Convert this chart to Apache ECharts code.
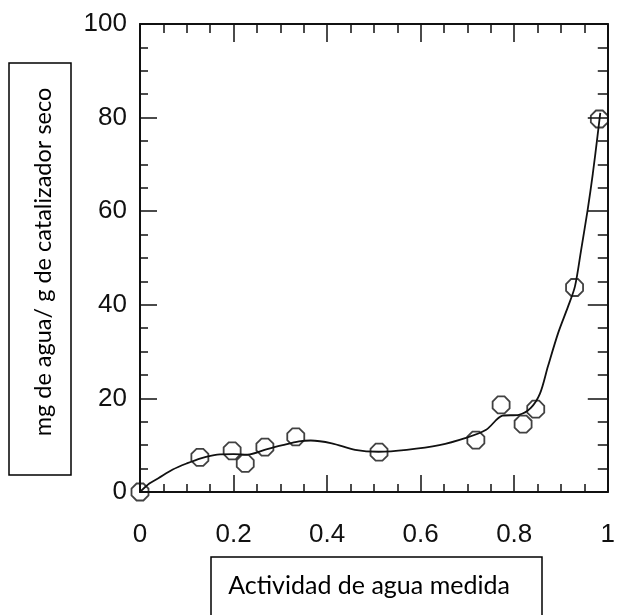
<!DOCTYPE html>
<html>
<head>
<meta charset="utf-8">
<script src="https://cdn.jsdelivr.net/npm/echarts@6/dist/echarts.min.js"></script>
<style>
html, body { margin: 0; padding: 0; background: #fff; }
#chart { width: 618px; height: 615px; }
</style>
</head>
<body>
<div id="chart"></div>
<script>
// puntos medidos (actividad de agua, mg agua / g catalizador)
var pointX = [0, 0.128, 0.197, 0.225, 0.267, 0.333, 0.511, 0.718, 0.772, 0.819, 0.846, 0.929, 0.982];
var pointY = [0, 7.4, 8.8, 6.1, 9.6, 11.8, 8.5, 11.1, 18.6, 14.5, 17.7, 43.7, 79.7];

// curva ajustada
var curveX = [0, 0.02, 0.04, 0.07, 0.1, 0.13, 0.165, 0.2, 0.23, 0.27, 0.305, 0.34, 0.365, 0.41, 0.46, 0.51, 0.57, 0.64, 0.695, 0.74, 0.775, 0.81, 0.835, 0.855, 0.872, 0.894, 0.915, 0.93, 0.943, 0.957, 0.968, 0.978, 0.984];
var curveY = [0, 1.8, 3.0, 4.8, 6.1, 7.2, 8.0, 8.1, 8.0, 9.1, 10.0, 10.8, 11.0, 10.4, 9.0, 8.6, 9.0, 10.0, 11.5, 13.3, 16.3, 16.5, 17.9, 21.0, 26.8, 34.0, 39.6, 44.0, 51.7, 60.3, 68.0, 76.0, 81.0];

var xTicks = [0, 0.2, 0.4, 0.6, 0.8, 1];
var yTicks = [0, 20, 40, 60, 80, 100];

var xTitle = "Actividad de agua medida";
var yTitle = "mg de agua/ g de catalizador seco";

function zip(a, b) {
    var out = [];
    for (var i = 0; i < a.length; i++) out.push([a[i], b[i]]);
    return out;
}

var labelFont = "'Liberation Sans', Arial, sans-serif";
var titleFont = "Lato, 'Open Sans', sans-serif";
var octagon = "path://M3,0 L7,0 L10,3 L10,7 L7,10 L3,10 L0,7 L0,3 Z";

var tickStyle = { color: "#111", width: 1.5 };

function axisBase(extra) {
    var base = {
        type: "value",
        axisLine: { show: true, onZero: false, lineStyle: { color: "#111", width: 2 } },
        splitLine: { show: false },
        minorSplitLine: { show: false }
    };
    for (var k in extra) base[k] = extra[k];
    return base;
}

var chart = echarts.init(document.getElementById("chart"));

var option = {
    animation: false,
    backgroundColor: "#fff",
    grid: { left: 140, right: 8, top: 24, bottom: 123 },
    xAxis: [
        axisBase({
            position: "bottom",
            min: xTicks[0], max: xTicks[xTicks.length - 1], interval: 0.2,
            axisTick: { inside: true, length: 17, lineStyle: tickStyle },
            minorTick: { show: true, splitNumber: 4, length: 8, lineStyle: tickStyle },
            axisLabel: {
                margin: 30, fontSize: 26, color: "#111", fontFamily: labelFont,
                formatter: function (v) { return String(+v.toFixed(1)); }
            }
        }),
        axisBase({
            position: "top",
            min: xTicks[0], max: xTicks[xTicks.length - 1], interval: 0.2,
            axisTick: { inside: true, length: 18, lineStyle: tickStyle },
            minorTick: { show: true, splitNumber: 4, length: 9, lineStyle: tickStyle },
            axisLabel: { show: false }
        })
    ],
    yAxis: [
        axisBase({
            position: "left",
            min: yTicks[0], max: yTicks[yTicks.length - 1], interval: 20,
            axisTick: { inside: true, length: 17, lineStyle: tickStyle },
            minorTick: { show: true, splitNumber: 4, length: 8, lineStyle: tickStyle },
            axisLabel: { margin: 13, fontSize: 26, color: "#111", fontFamily: labelFont }
        }),
        axisBase({
            position: "right",
            min: yTicks[0], max: yTicks[yTicks.length - 1], interval: 20,
            axisTick: { inside: true, length: 20, lineStyle: tickStyle },
            minorTick: { show: true, splitNumber: 4, length: 10, lineStyle: tickStyle },
            axisLabel: { show: false }
        })
    ],
    series: [
        {
            type: "line",
            data: zip(curveX, curveY),
            smooth: 0.3,
            showSymbol: false,
            lineStyle: { color: "#111", width: 1.8 },
            z: 2
        },
        {
            type: "scatter",
            data: zip(pointX, pointY),
            symbol: octagon,
            symbolSize: 17,
            itemStyle: { color: "rgba(0,0,0,0)", borderColor: "#111", borderWidth: 1.8 },
            z: 3
        }
    ],
    graphic: [
        {
            type: "rect",
            shape: { x: 9, y: 63, width: 62, height: 412 },
            style: { fill: "#fff", stroke: "#000", lineWidth: 1.5 }
        },
        {
            type: "text",
            x: 43, y: 262,
            rotation: Math.PI / 2,
            style: {
                text: yTitle, fontSize: 23.5, fontFamily: titleFont, fill: "#000",
                align: "center", verticalAlign: "middle"
            }
        },
        {
            type: "rect",
            shape: { x: 211, y: 557, width: 331, height: 70 },
            style: { fill: "#fff", stroke: "#000", lineWidth: 1.5 }
        },
        {
            type: "text",
            x: 369, y: 586,
            style: {
                text: xTitle, fontSize: 25, fontFamily: titleFont, fill: "#000",
                align: "center", verticalAlign: "middle"
            }
        }
    ]
};

chart.setOption(option);
</script>
</body>
</html>
